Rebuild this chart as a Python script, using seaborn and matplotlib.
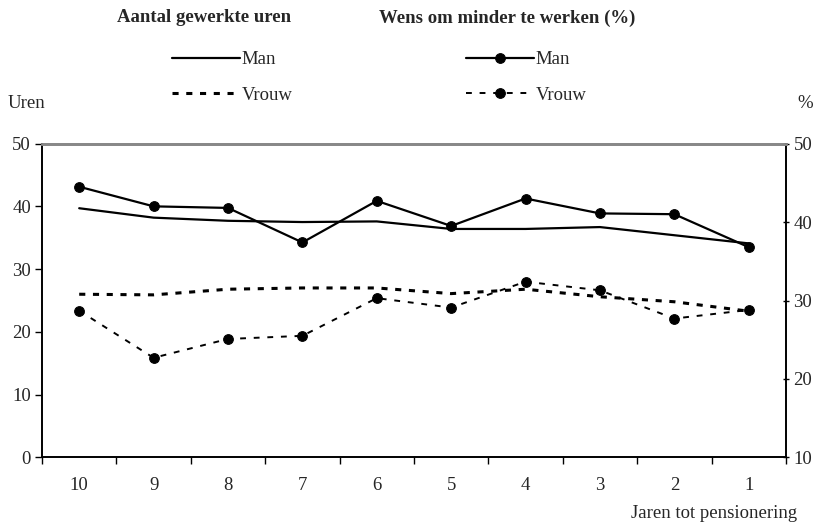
import pandas as pd
import matplotlib
matplotlib.use("Agg")
import matplotlib.pyplot as plt
import seaborn as sns
from matplotlib.ticker import FixedLocator, NullFormatter

# data
jaren = ["10", "9", "8", "7", "6", "5", "4", "3", "2", "1"]
uren_man = [39.7, 38.2, 37.7, 37.5, 37.6, 36.4, 36.4, 36.7, 35.4, 34.1]
uren_vrouw = [26.0, 25.9, 26.8, 27.0, 27.0, 26.1, 26.8, 25.6, 24.8, 23.3]
wens_man = [44.5, 42.0, 41.8, 37.4, 42.7, 39.5, 43.0, 41.1, 41.0, 36.8]
wens_vrouw = [28.7, 22.7, 25.1, 25.5, 30.3, 29.1, 32.4, 31.3, 27.7, 28.8]

df = pd.DataFrame({
    "pos": range(len(jaren)),
    "uren_man": uren_man,
    "uren_vrouw": uren_vrouw,
    "wens_man": wens_man,
    "wens_vrouw": wens_vrouw,
})

FS = 13.5

sns.set_theme(style="white")
plt.rcParams["font.family"] = ["Liberation Serif", "DejaVu Serif"]
plt.rcParams["font.size"] = FS

fig = plt.figure(figsize=(8.22, 5.24), dpi=100)
ax = fig.add_axes([0.0511, 0.127, 0.905, 0.599])
ax2 = ax.twinx()

sns.lineplot(data=df, x="pos", y="uren_man", ax=ax, color="black", lw=1.6, label="Man")
sns.lineplot(data=df, x="pos", y="uren_vrouw", ax=ax, color="black", lw=2.2,
             linestyle=(0, (2, 2.5)), label="Vrouw")
sns.lineplot(data=df, x="pos", y="wens_man", ax=ax2, color="black", lw=1.6,
             marker="o", markersize=7, markeredgecolor="black", label="Man")
sns.lineplot(data=df, x="pos", y="wens_vrouw", ax=ax2, color="black", lw=1.4,
             linestyle=(0, (3, 4)), marker="o", markersize=7,
             markeredgecolor="black", label="Vrouw")

ax.set_xlim(-0.5, len(jaren) - 0.5)
ax.set_ylim(0, 50)
ax2.set_ylim(10, 50)
ax.set_yticks([0, 10, 20, 30, 40, 50])
ax2.set_yticks([10, 20, 30, 40, 50])

ax.set_xticks(range(len(jaren)))
ax.set_xticklabels(jaren)
ax.xaxis.set_minor_locator(FixedLocator([i - 0.5 for i in range(len(jaren) + 1)]))
ax.xaxis.set_minor_formatter(NullFormatter())
ax.tick_params(axis="x", which="major", length=0, pad=14, labelsize=FS)
ax.tick_params(axis="x", which="minor", length=5, width=1, color="black", direction="out",
               bottom=True)
ax.tick_params(axis="y", length=5, width=1, color="black", direction="out", left=True,
               labelsize=FS, pad=3)
ax2.tick_params(axis="y", length=5, width=1, color="black", direction="inout", right=True,
                labelsize=FS, pad=3)

ax.set_xlabel("")
ax.set_ylabel("")
ax2.set_ylabel("")

for a in (ax, ax2):
    for side in ("left", "right", "bottom"):
        a.spines[side].set_color("black")
        a.spines[side].set_linewidth(1.2)
    a.spines["top"].set_color("#888888")
    a.spines["top"].set_linewidth(2)

# legends
h1, l1 = ax.get_legend_handles_labels()
h2, l2 = ax2.get_legend_handles_labels()
ax.get_legend().remove()
ax2.get_legend().remove()
leg_kw = dict(frameon=False, handlelength=3.6, handletextpad=0.1, labelspacing=1.0,
              fontsize=FS, borderaxespad=0, borderpad=0)
fig.legend(h1, l1, loc="upper left", bbox_to_anchor=(172 / 822, 1 - 51 / 524), **leg_kw)
fig.legend(h2, l2, loc="upper left", bbox_to_anchor=(466 / 822, 1 - 51 / 524), **leg_kw)

fig.text(204 / 822, 1 - 18 / 524, "Aantal gewerkte uren", ha="center", va="center",
         fontsize=FS, fontweight="bold")
fig.text(507 / 822, 1 - 18 / 524, "Wens om minder te werken (%)", ha="center", va="center",
         fontsize=FS, fontweight="bold")
fig.text(8 / 822, 1 - 103 / 524, "Uren", ha="left", va="center", fontsize=FS)
fig.text(805 / 822, 1 - 103 / 524, "%", ha="center", va="center", fontsize=FS)
fig.text(797 / 822, 1 - 513 / 524, "Jaren tot pensionering", ha="right", va="center",
         fontsize=FS)

fig.savefig("out.png", dpi=100)
